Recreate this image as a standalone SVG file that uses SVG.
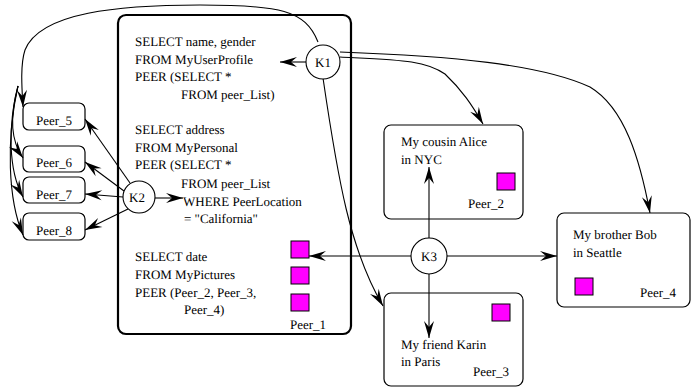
<svg xmlns="http://www.w3.org/2000/svg" width="691" height="388" viewBox="0 0 691 388" font-family="'Liberation Serif', 'Times New Roman', serif" text-rendering="geometricPrecision">
<style>
text{font-family:"Liberation Serif","Times New Roman",serif;font-size:13px;fill:#000}
.box{fill:#fff;stroke:#000;stroke-width:1.2}
.big{fill:#fff;stroke:#000;stroke-width:2.2}
.sq{fill:#ff00ff;stroke:#000;stroke-width:1}
.k{fill:#fff;stroke:#000;stroke-width:1.1}
.c{fill:none;stroke:#000;stroke-width:1.1;marker-end:url(#a)}
.m{text-anchor:middle}
</style>
<defs>
<marker id="a" viewBox="-18 -6 19 12" refX="0" refY="0" markerWidth="19" markerHeight="12" orient="auto" markerUnits="userSpaceOnUse">
<path d="M0,0 L-17,-5 L-11,0 L-17,5 Z" fill="#000"/>
</marker>
</defs>
<g id="peer1">
<rect class="big" x="118" y="15" width="233" height="319" rx="8"/>
<text x="135" y="46">SELECT name, gender</text>
<text x="135" y="64">FROM MyUserProfile</text>
<text x="135" y="81">PEER (SELECT *</text>
<text x="181" y="99">FROM peer_List)</text>
<text x="135" y="134">SELECT address</text>
<text x="135" y="152">FROM MyPersonal</text>
<text x="135" y="169">PEER (SELECT *</text>
<text x="181" y="188">FROM peer_List</text>
<text x="183" y="206">WHERE PeerLocation</text>
<text x="184" y="223">= "California"</text>
<text x="135" y="261">SELECT date</text>
<text x="135" y="279">FROM MyPictures</text>
<text x="135" y="297">PEER (Peer_2, Peer_3,</text>
<text x="184" y="314">Peer_4)</text>
<rect class="sq" x="291" y="241" width="18" height="17"/>
<rect class="sq" x="291" y="267" width="18" height="17"/>
<rect class="sq" x="291" y="294" width="18" height="17"/>
<text x="290" y="329">Peer_1</text>
</g>
<g id="peer5"><rect class="box" x="23" y="103" width="62" height="27" rx="6"/><text class="m" x="54" y="125">Peer_5</text></g>
<g id="peer6"><rect class="box" x="23" y="146" width="62" height="26" rx="6"/><text class="m" x="54" y="167">Peer_6</text></g>
<g id="peer7"><rect class="box" x="23" y="177" width="62" height="26" rx="6"/><text class="m" x="54" y="199">Peer_7</text></g>
<g id="peer8"><rect class="box" x="23" y="213" width="62" height="27" rx="6"/><text class="m" x="54" y="235">Peer_8</text></g>
<g id="peer2">
<rect class="box" x="384" y="125" width="139" height="94" rx="7"/>
<text x="401" y="146">My cousin Alice</text>
<text x="401" y="164">in NYC</text>
<rect class="sq" x="497" y="173" width="18" height="17"/>
<text x="468" y="208">Peer_2</text>
</g>
<g id="peer3">
<rect class="box" x="384" y="293" width="139" height="93" rx="7"/>
<text x="401" y="349">My friend Karin</text>
<text x="401" y="366">in Paris</text>
<rect class="sq" x="492" y="304" width="18" height="17"/>
<text x="473" y="376">Peer_3</text>
</g>
<g id="peer4">
<rect class="box" x="557" y="213" width="133" height="94" rx="7"/>
<text x="573" y="239">My brother Bob</text>
<text x="573" y="257">in Seattle</text>
<rect class="sq" x="575" y="278" width="18" height="17"/>
<text x="640" y="297">Peer_4</text>
</g>
<g id="connectors">
<path class="c" d="M306,62 L280,62"/>
<path class="c" d="M318,42 C305,10 280,5 200,5 C120,5 40,12 25,50 C20,65 22,90 23,107"/>
<path class="c" d="M18,86 C10,115 10,140 23,158"/>
<path class="c" d="M18,86 C8,125 8,170 23,197"/>
<path class="c" d="M18,86 C6,140 8,200 23,235"/>
<path class="c" d="M130,183 L85,119"/>
<path class="c" d="M124,191 L85,162"/>
<path class="c" d="M123,197 L85,194"/>
<path class="c" d="M128,209 L85,230"/>
<path class="c" d="M155,198 L183,198"/>
<path class="c" d="M340,52 C450,56 540,64 590,87 C625,108 640,160 650,213"/>
<path class="c" d="M340,57 C400,60 425,60 445,74 C462,90 472,105 483,124"/>
<path class="c" d="M323,78 C338,180 350,250 383,306"/>
<path class="c" d="M429,238 L429,167"/>
<path class="c" d="M429,274 L429,338"/>
<path class="c" d="M447,256 L557,256"/>
<path class="c" d="M411,256 L309,256"/>
</g>
<g id="k1"><circle class="k" cx="323" cy="62" r="17"/><text class="m" x="323" y="67">K1</text></g>
<g id="k2"><circle class="k" cx="139" cy="197" r="16"/><text class="m" x="137" y="202">K2</text></g>
<g id="k3"><circle class="k" cx="429" cy="256" r="18"/><text class="m" x="429" y="261">K3</text></g>
</svg>
